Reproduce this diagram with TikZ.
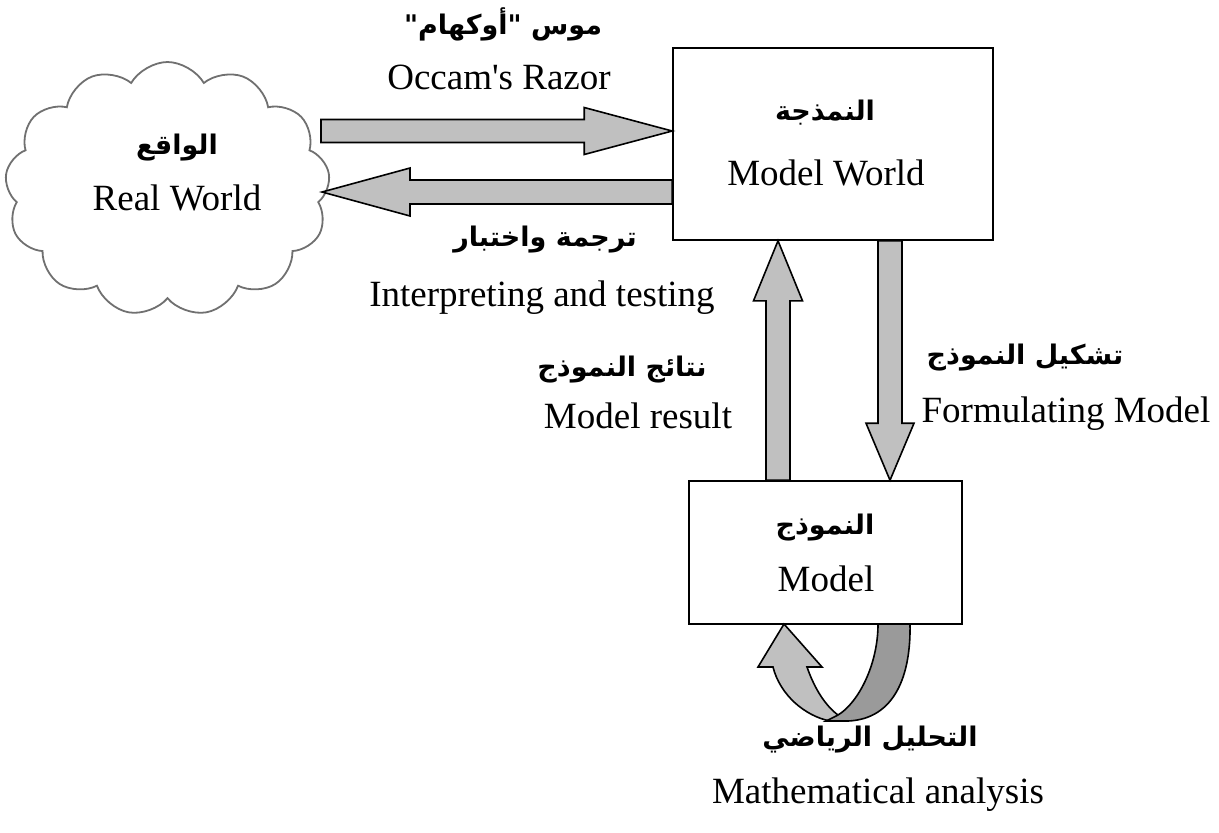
\documentclass[tikz,border=0pt]{standalone}
\usepackage{fontspec}
\setmainfont[Ligatures=TeXOff]{Liberation Serif}
\newfontfamily\arabicfont[Script=Arabic]{DejaVu Sans}
\TeXXeTstate=1
\usetikzlibrary{shapes.symbols,calc}
\definecolor{lightg}{HTML}{C0C0C0}
\definecolor{darkg}{HTML}{9A9A9A}
\definecolor{cloudg}{HTML}{707070}
\tikzset{
  en/.style={font=\fontsize{18.5}{20}\selectfont, inner sep=0pt},
  ar/.style={font=\arabicfont\bfseries\fontsize{13.5}{15}\selectfont, inner sep=0pt},
  box/.style={draw, line width=0.8pt, fill=white},
  blk/.style={draw, fill=lightg, line width=0.8pt, line join=miter},
  cloudbox/.style={cloud, cloud puffs=13, cloud puff arc=120, cloud ignores aspect,
    draw=cloudg, line width=0.9pt, fill=white, inner sep=0pt},
}
\newcommand\blockarrow[5]{%
  \coordinate (bah) at ($(#2)!#5!(#1)$);
  \draw[blk] ($(#1)!#3!90:(#2)$) -- ($(bah)!#3!-90:(#1)$) -- ($(bah)!#4!-90:(#1)$) -- (#2)
     -- ($(bah)!#4!90:(#1)$) -- ($(bah)!#3!90:(#1)$) -- ($(#1)!#3!-90:(#2)$) -- cycle;}
\begin{document}
\begin{tikzpicture}[x=0.5pt, y=-0.5pt]
\useasboundingbox (0,0) rectangle (1219,832);
% nodes
\node[cloudbox, minimum width=162.5pt, minimum height=127pt] (rw) at (167.5,189) {};
\node[box, minimum width=160pt, minimum height=96pt] (mw) at (833,144) {};
\node[box, minimum width=136.5pt, minimum height=71.5pt] (m) at (825.5,552.5) {};
% straight block arrows
\coordinate (oc-s) at (321,131);
\coordinate (oc-e) at (mw.west |- oc-s);
\blockarrow{oc-s}{oc-e}{5.75pt}{11.75pt}{44pt}
\coordinate (it-e) at (322,192);
\coordinate (it-s) at (mw.west |- it-e);
\blockarrow{it-s}{it-e}{6pt}{12pt}{44pt}
\coordinate (mr-x) at (778,0);
\coordinate (mr-s) at (mr-x |- m.north);
\coordinate (mr-e) at (mr-x |- mw.south);
\blockarrow{mr-s}{mr-e}{6pt}{12.25pt}{30pt}
\coordinate (fm-x) at (890,0);
\coordinate (fm-s) at (fm-x |- mw.south);
\coordinate (fm-e) at (fm-x |- m.north);
\blockarrow{fm-s}{fm-e}{6pt}{12pt}{28.5pt}
% curved self-loop arrow
\draw[blk] (784,624) -- (822,667) -- (807,667) .. controls (815,690) and (826,706) .. (838,715)
  -- (830,721) .. controls (805,716) and (780,695) .. (773,667) -- (758,667) -- cycle;
\draw[draw, fill=darkg, line width=0.8pt] (878,624) -- (910,624) .. controls (911,675) and (895,719) .. (848,721)
  -- (826,721) .. controls (830,719) and (834,717) .. (838,715) .. controls (858,703) and (878,665) .. (878,624) -- cycle;
% labels
\node[ar] (l-occ-ar) at (503,24) {\beginR موس "أوكهام"\endR};
\node[en, anchor=base] (l-occ) at (499,89) {Occam's Razor};
\node[ar] (l-rw-ar) at (177,148) {\beginR الواقع\endR};
\node[en, anchor=base] (l-rw) at (177,210) {Real World};
\node[ar] (l-mw-ar) at (825,113) {\beginR النمذجة\endR};
\node[en, anchor=base] (l-mw) at (826,185) {Model World};
\node[ar] (l-it-ar) at (545,240) {\beginR ترجمة واختبار\endR};
\node[en, anchor=base] (l-it) at (542,306) {Interpreting and testing};
\node[ar] (l-mr-ar) at (622,370) {\beginR نتائج النموذج\endR};
\node[en, anchor=base] (l-mr) at (638,428) {Model result};
\node[ar] (l-fm-ar) at (1025,358) {\beginR تشكيل النموذج\endR};
\node[en, anchor=base] (l-fm) at (1066,422) {Formulating Model};
\node[ar] (l-m-ar) at (825,528) {\beginR النموذج\endR};
\node[en, anchor=base] (l-m) at (826,591) {Model};
\node[ar] (l-ma-ar) at (870,740) {\beginR التحليل الرياضي\endR};
\node[en, anchor=base] (l-ma) at (878,803) {Mathematical analysis};
\end{tikzpicture}
\end{document}
